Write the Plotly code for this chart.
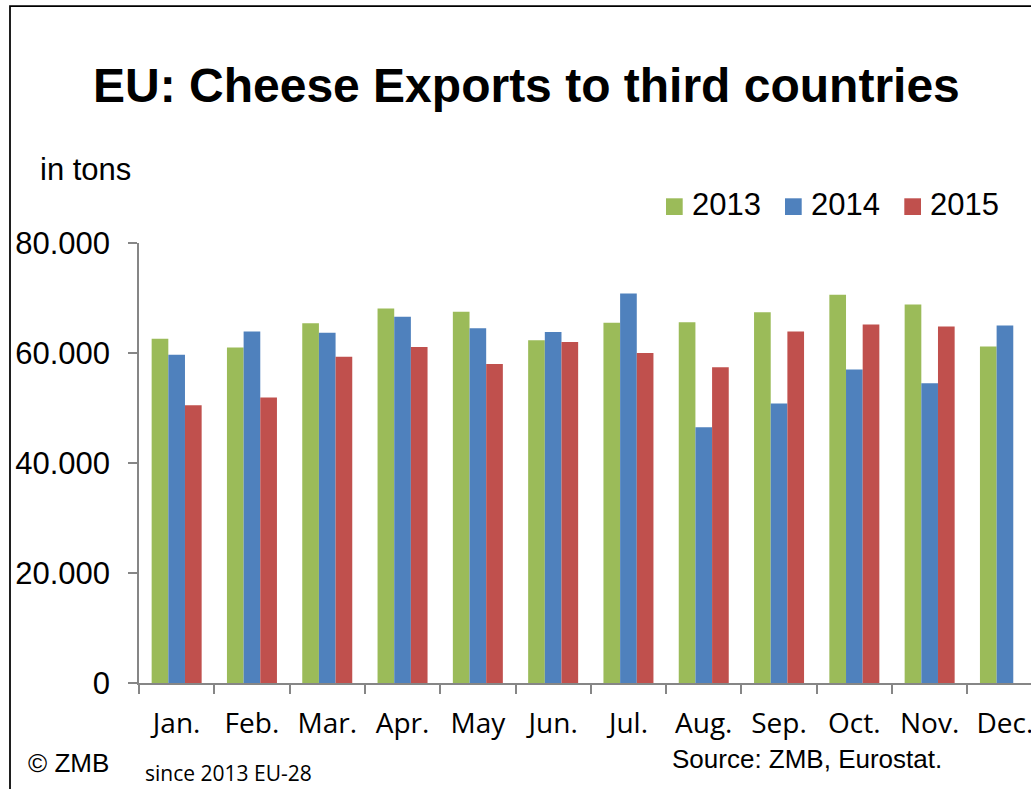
import plotly.graph_objects as go

# Monthly cheese exports of the EU to third countries, in tons
months = ["Jan.", "Feb.", "Mar.", "Apr.", "May", "Jun.",
          "Jul.", "Aug.", "Sep.", "Oct.", "Nov.", "Dec."]
exports_2013 = [62600, 61000, 65400, 68100, 67500, 62300,
                65500, 65600, 67400, 70600, 68800, 61200]
exports_2014 = [59700, 63900, 63700, 66600, 64500, 63800,
                70800, 46500, 50800, 57000, 54500, 65000]
exports_2015 = [50500, 51900, 59300, 61100, 58000, 62000,
                60000, 57400, 63900, 65200, 64800, None]

series_names = ["2013", "2014", "2015"]
series_colors = ["#9BBB59", "#4F81BD", "#C0504D"]

y_ticks = [0, 20000, 40000, 60000, 80000]
y_tick_labels = ["0", "20.000", "40.000", "60.000", "80.000"]

# Page geometry (pixels)
W, H = 1031, 789
ML, MR, MT, MB = 139, 0, 243, 106
PW = W - ML - MR
PH = H - MT - MB
CAT_PX = 75.3  # width of one month slot


def px_x(x):
    return (x - ML) / PW


def px_y(y):
    return (H - MB - y) / PH


fig = go.Figure()
for name, color, vals in zip(series_names, series_colors,
                             [exports_2013, exports_2014, exports_2015]):
    fig.add_trace(go.Bar(x=months, y=vals, name=name,
                         marker=dict(color=color, line=dict(width=0)),
                         showlegend=False))

gray = "#868686"
arial = "Arial, Liberation Sans, sans-serif"
calib = "Open Sans, sans-serif"

fig.update_layout(
    width=W, height=H,
    margin=dict(l=ML, r=MR, t=MT, b=MB, pad=0),
    paper_bgcolor="white", plot_bgcolor="white",
    barmode="group", bargap=0.336, bargroupgap=0,
    xaxis=dict(
        type="category", range=[-0.5, -0.5 + PW / CAT_PX],
        showline=True, linecolor=gray, linewidth=2,
        ticks="outside", tickson="boundaries", ticklen=9,
        tickwidth=1.5, tickcolor=gray, showgrid=False,
        tickfont=dict(family=calib, size=28, color="black"),
        ticklabelstandoff=14, automargin=False,
    ),
    yaxis=dict(
        range=[0, 80000], tickvals=y_ticks, ticktext=y_tick_labels,
        showline=True, linecolor=gray, linewidth=1.5,
        ticks="outside", ticklen=9, tickwidth=1.5, tickcolor=gray,
        showgrid=False, zeroline=False,
        tickfont=dict(family=arial, size=31, color="black"),
        ticklabelstandoff=12, automargin=False,
    ),
)

annotations = [
    dict(text="<b>EU: Cheese Exports to third countries</b>",
         x=px_x(526.5), y=px_y(86), xanchor="center", yanchor="middle",
         font=dict(family=arial, size=48, color="black")),
    dict(text="in tons", x=px_x(38), y=px_y(170),
         xanchor="left", yanchor="middle",
         font=dict(family=arial, size=31, color="black")),
    dict(text="© ZMB", x=px_x(26), y=px_y(763),
         xanchor="left", yanchor="middle",
         font=dict(family=arial, size=26, color="black")),
    dict(text="since 2013 EU-28", x=px_x(143), y=px_y(773),
         xanchor="left", yanchor="middle",
         font=dict(family=calib, size=21, color="black")),
    dict(text="Source: ZMB, Eurostat.", x=px_x(670), y=px_y(759),
         xanchor="left", yanchor="middle",
         font=dict(family=arial, size=26, color="black")),
]

shapes = [
    # outer frame
    dict(type="rect", xref="paper", yref="paper",
         x0=px_x(10), x1=px_x(1060), y0=px_y(820), y1=px_y(6),
         line=dict(color="black", width=1.75), fillcolor="rgba(0,0,0,0)"),
]

# Legend: colored squares with year labels
legend_sq_left = [666, 785, 904.3]
for name, color, left in zip(series_names, series_colors, legend_sq_left):
    shapes.append(dict(type="rect", xref="paper", yref="paper",
                       x0=px_x(left), x1=px_x(left + 16.7),
                       y0=px_y(215), y1=px_y(198.3),
                       line=dict(width=0), fillcolor=color))
    annotations.append(dict(text=name, x=px_x(left + 23.5), y=px_y(204),
                            xanchor="left", yanchor="middle",
                            font=dict(family=arial, size=31, color="black")))

for a in annotations:
    a.update(xref="paper", yref="paper", showarrow=False)

fig.update_layout(annotations=annotations, shapes=shapes)

fig.write_html("out.html")
